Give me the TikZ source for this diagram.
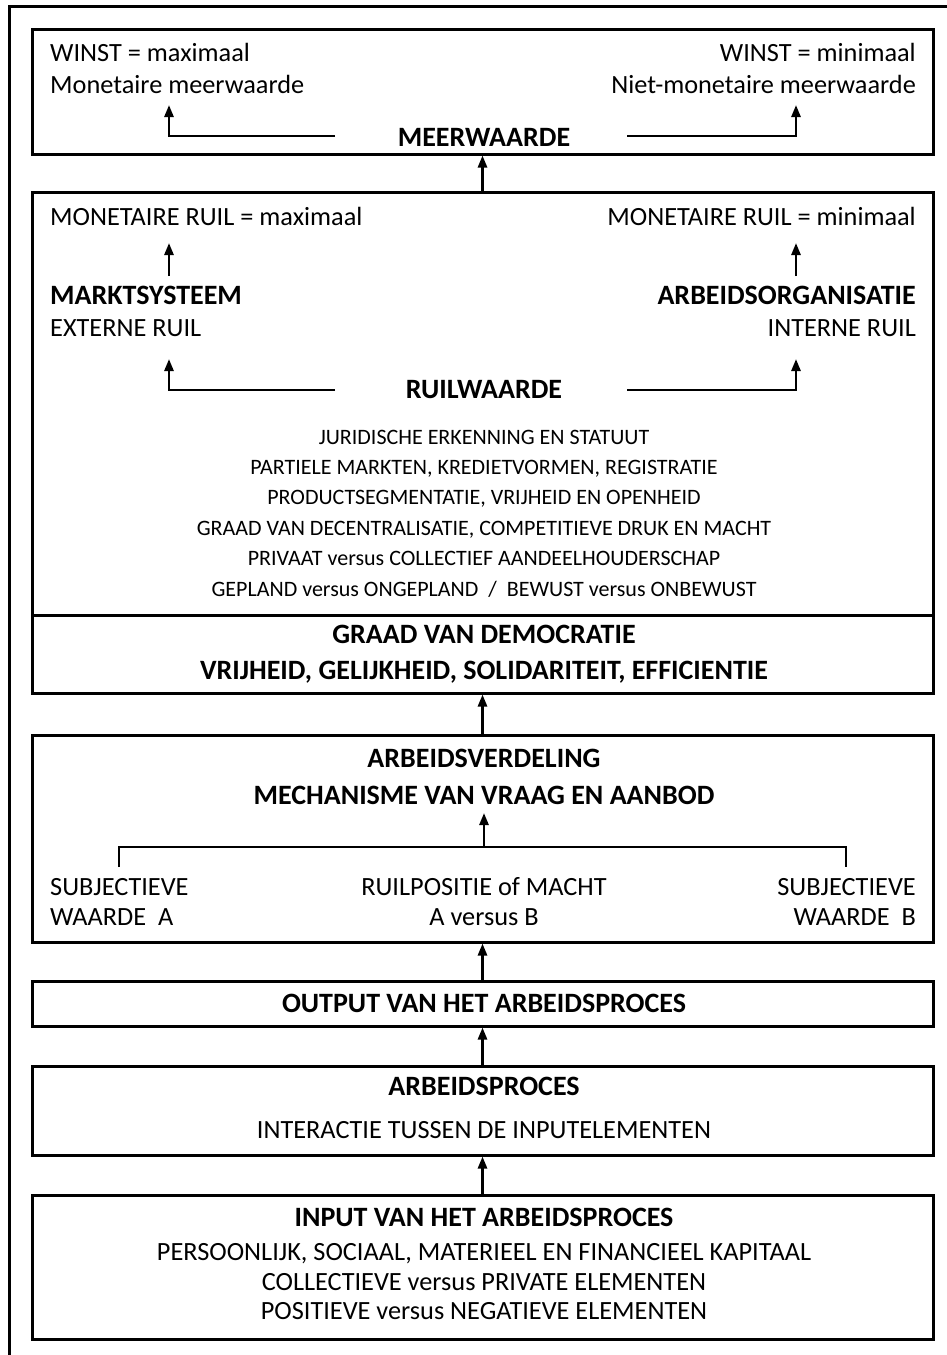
\documentclass[tikz,border=0pt]{standalone}
\usepackage{fontspec}
\setmainfont{Carlito}
\usetikzlibrary{arrows.meta}

\begin{document}
\begin{tikzpicture}[x=1pt,y=-1pt,
    kader/.style={draw,line width=3pt,inner sep=0pt,minimum width=901pt},
    txt/.style={inner sep=0pt,text height=0.64em,text depth=0pt},
    vet/.style={txt,font=\fontsize{28}{32}\selectfont\bfseries},
    klein/.style={txt,font=\fontsize{22}{26}\selectfont},
    pijl/.style={line width=2.6pt,-{Triangle[length=12pt,width=9pt]}},
    lijn/.style={line width=1.3pt}]
\useasboundingbox (0,0) rectangle (947,1355);
{\fontsize{26.3}{30}\selectfont

% Drawing outer frame
\begin{scope}
\clip (0,0) rectangle (947,1355);
\draw [line width=3pt] (9,1400) -- (9,6) -- (1000,6);%
\end{scope}

% Drawing box meerwaarde
\node [kader,minimum height=125pt] (meer) at (482.5,91.5) {};%
\node [txt,anchor=west] (winstmax) at (50,53) {WINST = maximaal};%
\node [txt,anchor=west] (monmw) at (50,85) {Monetaire meerwaarde};%
\node [txt,anchor=east] (winstmin) at (916,53) {WINST = minimaal};%
\node [txt,anchor=east] (nietmw) at (916,85) {Niet-monetaire meerwaarde};%
\node [vet] (meerwaarde) at (484,138) {MEERWAARDE};%
\coordinate (mwL) at (335,136);
\coordinate (mwLtop) at (169,105);
\coordinate (mwR) at (627,136);
\coordinate (mwRtop) at (796,105);
\draw [pijl] (mwL) -| (mwLtop);%
\draw [pijl] (mwR) -| (mwRtop);%

% Drawing box ruilwaarde
\node [kader,minimum height=423pt] (ruil) at (482.5,403.5) {};%
\node [txt,anchor=west] (ruilmax) at (50,217) {MONETAIRE RUIL = maximaal};%
\node [txt,anchor=east] (ruilmin) at (916,217) {MONETAIRE RUIL = minimaal};%
\node [vet,anchor=west] (markt) at (50,296) {MARKTSYSTEEM};%
\node [txt,anchor=west] (extern) at (50,328) {EXTERNE RUIL};%
\node [vet,anchor=east] (organ) at (916,296) {ARBEIDSORGANISATIE};%
\node [txt,anchor=east] (intern) at (916,328) {INTERNE RUIL};%
\coordinate (mrktA) at (169,276);
\coordinate (mrktB) at (169,243);
\coordinate (orgA) at (796,276);
\coordinate (orgB) at (796,243);
\draw [pijl] (mrktA) -- (mrktB);%
\draw [pijl] (orgA) -- (orgB);%
\node [vet] (ruilwaarde) at (484,390) {RUILWAARDE};%
\coordinate (rwL) at (335,390);
\coordinate (rwLtop) at (169,359);
\coordinate (rwR) at (627,390);
\coordinate (rwRtop) at (796,359);
\draw [pijl] (rwL) -| (rwLtop);%
\draw [pijl] (rwR) -| (rwRtop);%
\node [klein] (jur) at (484,436) {JURIDISCHE ERKENNING EN STATUUT};%
\node [klein] (part) at (484,466) {PARTIELE MARKTEN, KREDIETVORMEN, REGISTRATIE};%
\node [klein] (prod) at (484,496) {PRODUCTSEGMENTATIE, VRIJHEID EN OPENHEID};%
\node [klein] (decen) at (484,527) {GRAAD VAN DECENTRALISATIE, COMPETITIEVE DRUK EN MACHT};%
\node [klein] (priv) at (484,557) {PRIVAAT versus COLLECTIEF AANDEELHOUDERSCHAP};%
\node [klein] (gepl) at (484,588) {GEPLAND versus ONGEPLAND \ / \ BEWUST versus ONBEWUST};%

% Drawing box democratie
\node [kader,minimum height=78pt] (demo) at (482.5,654) {};%
\node [vet] (graad) at (484,635) {GRAAD VAN DEMOCRATIE};%
\node [vet] (vrij) at (484,671) {VRIJHEID, GELIJKHEID, SOLIDARITEIT, EFFICIENTIE};%

% Drawing box arbeidsverdeling
\node [kader,minimum height=207pt] (verd) at (482.5,838.5) {};%
\node [vet] (arbverd) at (484,759) {ARBEIDSVERDELING};%
\node [vet] (mech) at (484,796) {MECHANISME VAN VRAAG EN AANBOD};%
\coordinate (brM) at (484,847);
\coordinate (brTop) at (484,813);
\coordinate (brL) at (119,867);
\coordinate (brR) at (846,867);
\draw [lijn] (brL) -- (brL |- brM) -- (brR |- brM) -- (brR);%
\draw [pijl] (brM) -- (brTop);%
\node [txt,anchor=west] (subjA) at (50,887) {SUBJECTIEVE};%
\node [txt,anchor=west] (waardeA) at (50,917) {WAARDE\ \ A};%
\node [txt,anchor=east] (subjB) at (916,887) {SUBJECTIEVE};%
\node [txt,anchor=east] (waardeB) at (916,917) {WAARDE\ \ B};%
\node [txt] (positie) at (484,887) {RUILPOSITIE of MACHT};%
\node [txt] (versus) at (484,917) {A versus B};%

% Drawing box output
\node [kader,minimum height=45pt] (output) at (482.5,1003.5) {};%
\node [vet] (outtxt) at (484,1004) {OUTPUT VAN HET ARBEIDSPROCES};%

% Drawing box arbeidsproces
\node [kader,minimum height=89pt] (proces) at (482.5,1110.5) {};%
\node [vet] (proctxt) at (484,1087) {ARBEIDSPROCES};%
\node [txt] (inter) at (484,1130) {INTERACTIE TUSSEN DE INPUTELEMENTEN};%

% Drawing box input
\node [kader,minimum height=144pt] (input) at (482.5,1267) {};%
\node [vet] (intxt) at (484,1218) {INPUT VAN HET ARBEIDSPROCES};%
\node [txt] (kap) at (484,1252) {PERSOONLIJK, SOCIAAL, MATERIEEL EN FINANCIEEL KAPITAAL};%
\node [txt] (coll) at (484,1282) {COLLECTIEVE versus PRIVATE ELEMENTEN};%
\node [txt] (pos) at (484,1311) {POSITIEVE versus NEGATIEVE ELEMENTEN};%

% Drawing arrows between boxes
\draw [pijl] (ruil.north) -- (meer.south);%
\draw [pijl] (verd.north) -- (demo.south);%
\draw [pijl] (output.north) -- (verd.south);%
\draw [pijl] (proces.north) -- (output.south);%
\draw [pijl] (input.north) -- (proces.south);%
}
\end{tikzpicture}
\end{document}
